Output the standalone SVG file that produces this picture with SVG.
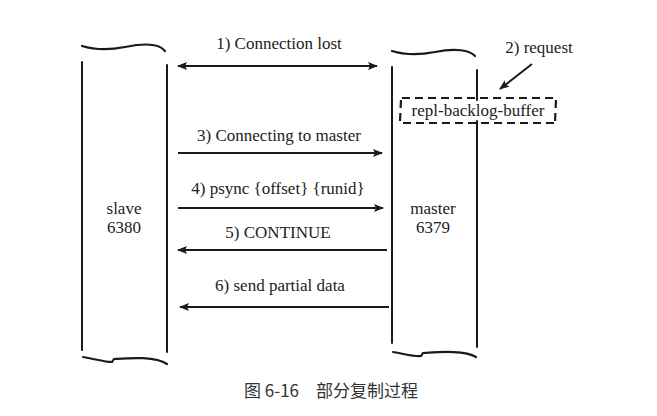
<svg xmlns="http://www.w3.org/2000/svg" width="657" height="416" viewBox="0 0 657 416" xml:lang="en">
<defs>
<marker id="ah" viewBox="0 0 10 8" refX="9" refY="4" markerWidth="10" markerHeight="8" markerUnits="userSpaceOnUse" orient="auto-start-reverse">
<path d="M0,0 L10,4 L0,8 L2,4 Z" fill="#1a1a1a"/>
</marker>
</defs>
<style>
.ln{stroke:#1a1a1a;stroke-width:2;fill:none;stroke-linecap:round}
.sq{stroke:#1a1a1a;stroke-width:2.2;fill:none;stroke-linecap:round}
.ar{stroke:#1a1a1a;stroke-width:2;fill:none}
.t{font-family:"Liberation Serif","Times New Roman",serif;font-size:17px;fill:#222}
.cap{font-family:"Noto Sans CJK SC",sans-serif;font-size:17px;fill:#333}
.dash{stroke:#1a1a1a;stroke-width:2.2;fill:none;stroke-dasharray:8,5}
</style>
<rect width="657" height="416" fill="#fff"/>
<g id="slave">
<path class="sq" d="M82,46 C95,50 110,50 125,47 C145,43 160,44 165,51"/>
<line class="ln" x1="82" y1="62" x2="82" y2="350"/>
<line class="ln" x1="167" y1="65" x2="167" y2="352"/>
<path class="sq" d="M83,357 C95,359 105,362 112,362 L114,359 C130,358 155,356 167,364"/>
<text class="t" font-family="Liberation Serif" x="124" y="214" text-anchor="middle">slave</text>
<text class="t" font-family="Liberation Serif" x="124" y="233" text-anchor="middle">6380</text>
</g>
<g id="master">
<path class="sq" d="M392,51 C405,55 420,55 435,52 C455,48 470,50 475,56"/>
<line class="ln" x1="392" y1="67" x2="392" y2="343"/>
<line class="ln" x1="477" y1="70" x2="477" y2="100"/>
<line class="ln" x1="477" y1="121" x2="477" y2="347"/>
<path class="sq" d="M393,352 C405,354 415,357 421,356 L423,353 C440,352 465,350 476,357"/>
<text class="t" font-family="Liberation Serif" x="433" y="214" text-anchor="middle">master</text>
<text class="t" font-family="Liberation Serif" x="433" y="233" text-anchor="middle">6379</text>
</g>
<g id="buffer">
<path class="dash" d="M402,98 L554,98 M556,100 L555,122 M554,123 L402,123 M400,121 L401,100"/>
<text class="t" font-family="Liberation Serif" x="478" y="116" text-anchor="middle">repl-backlog-buffer</text>
</g>
<g id="connectors">
<line class="ar" x1="178" y1="66" x2="377" y2="66" marker-start="url(#ah)" marker-end="url(#ah)"/>
<line class="ar" x1="532" y1="64" x2="500" y2="89" marker-end="url(#ah)"/>
<line class="ar" x1="178" y1="153" x2="382" y2="153" marker-end="url(#ah)"/>
<line class="ar" x1="178" y1="208" x2="383" y2="208" marker-end="url(#ah)"/>
<line class="ar" x1="387" y1="250" x2="178" y2="250" marker-end="url(#ah)"/>
<line class="ar" x1="389" y1="307" x2="180" y2="307" marker-end="url(#ah)"/>
</g>
<g id="labels">
<text class="t" font-family="Liberation Serif" x="279" y="49" text-anchor="middle">1) Connection lost</text>
<text class="t" font-family="Liberation Serif" x="539" y="53" text-anchor="middle">2) request</text>
<text class="t" font-family="Liberation Serif" x="279" y="141" text-anchor="middle">3) Connecting to master</text>
<text class="t" font-family="Liberation Serif" x="278" y="194" text-anchor="middle">4) psync {offset} {runid}</text>
<text class="t" font-family="Liberation Serif" x="278" y="238" text-anchor="middle">5) CONTINUE</text>
<text class="t" font-family="Liberation Serif" x="280" y="291" text-anchor="middle">6) send partial data</text>
</g>
<text class="cap" xml:lang="zh" x="331" y="397" text-anchor="middle">图 6-16　部分复制过程</text>
</svg>
